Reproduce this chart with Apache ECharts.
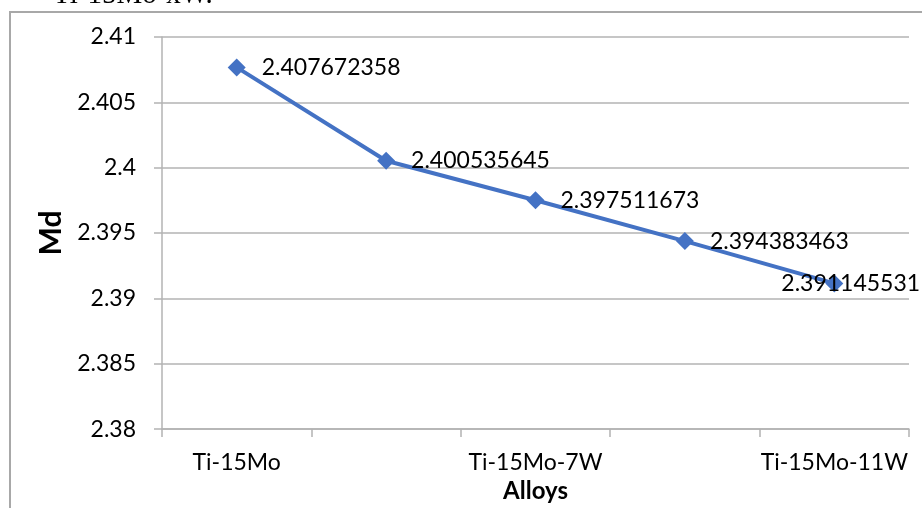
<!DOCTYPE html>
<html>
<head>
<meta charset="utf-8">
<script src="https://cdn.jsdelivr.net/npm/echarts@6/dist/echarts.min.js"></script>
<style>
html,body{margin:0;padding:0;background:#fff;}
#c{width:922px;height:508px;}
</style>
</head>
<body>
<div id="c"></div>
<script>
var categories = ['Ti-15Mo', 'Ti-15Mo-5W', 'Ti-15Mo-7W', 'Ti-15Mo-9W', 'Ti-15Mo-11W'];
var mdValues = [2.407672358, 2.400535645, 2.397511673, 2.394383463, 2.391145531];
var yMin = 2.38, yMax = 2.41, yStep = 0.005;
var yTitle = 'Md';
var xTitle = 'Alloys';
var topText = 'Ti-15Mo-xW.';

var chart = echarts.init(document.getElementById('c'), null, {renderer: 'canvas'});
var font = 'Lato, "Open Sans", sans-serif';
var gridColor = '#b3b3b3';

var seriesData = mdValues.map(function (v, i) {
  var d = {value: v};
  if (i === mdValues.length - 1) {
    d.label = {offset: [-78, 0]};
  }
  return d;
});

chart.setOption({
  animation: false,
  backgroundColor: '#fff',
  graphic: [
    {
      type: 'line',
      shape: {x1: 9, y1: 12, x2: 922, y2: 12},
      style: {stroke: '#a8a8a8', lineWidth: 2},
      silent: true, z: -1
    },
    {
      type: 'line',
      shape: {x1: 10, y1: 12, x2: 10, y2: 508},
      style: {stroke: '#a8a8a8', lineWidth: 2},
      silent: true, z: -1
    },
    {
      type: 'text',
      x: 53, y: 9.5,
      style: {text: topText, font: '29px "Liberation Serif", serif', fill: '#000', verticalAlign: 'bottom', align: 'left'},
      silent: true
    }
  ],
  grid: {left: 162, right: 13, top: 37, bottom: 76.5, containLabel: false},
  xAxis: {
    type: 'category',
    data: categories,
    boundaryGap: true,
    name: xTitle,
    nameLocation: 'middle',
    nameGap: 46,
    nameTextStyle: {fontFamily: font, fontSize: 24, fontWeight: 'bold', color: '#000'},
    axisLine: {show: true, lineStyle: {color: gridColor, width: 1.5}},
    axisTick: {show: true, interval: 0, length: 8, lineStyle: {color: gridColor, width: 1.5}},
    axisLabel: {interval: 1, margin: 22, fontFamily: font, fontSize: 23, color: '#000'},
    splitLine: {show: false}
  },
  yAxis: {
    type: 'value',
    min: yMin, max: yMax, interval: yStep,
    name: yTitle,
    nameLocation: 'middle',
    nameRotate: 90,
    nameGap: 92,
    nameTextStyle: {fontFamily: font, fontSize: 30, fontWeight: 'bold', color: '#000'},
    axisLine: {show: true, lineStyle: {color: gridColor, width: 1.5}},
    axisTick: {show: true, length: 8, lineStyle: {color: gridColor, width: 1.5}},
    axisLabel: {
      margin: 26, fontFamily: font, fontSize: 23, color: '#000',
      formatter: function (v) { return String(+v.toFixed(3)); }
    },
    splitLine: {show: true, lineStyle: {color: gridColor, width: 1.5}}
  },
  series: [{
    type: 'line',
    data: seriesData,
    symbol: 'diamond',
    symbolSize: 18,
    lineStyle: {color: '#4472C4', width: 4},
    itemStyle: {color: '#4472C4'},
    label: {
      show: true, position: 'right', distance: 16,
      fontFamily: font, fontSize: 23, color: '#000',
      formatter: function (p) { return String(p.value); }
    },
    z: 3
  }]
});
</script>
</body>
</html>
